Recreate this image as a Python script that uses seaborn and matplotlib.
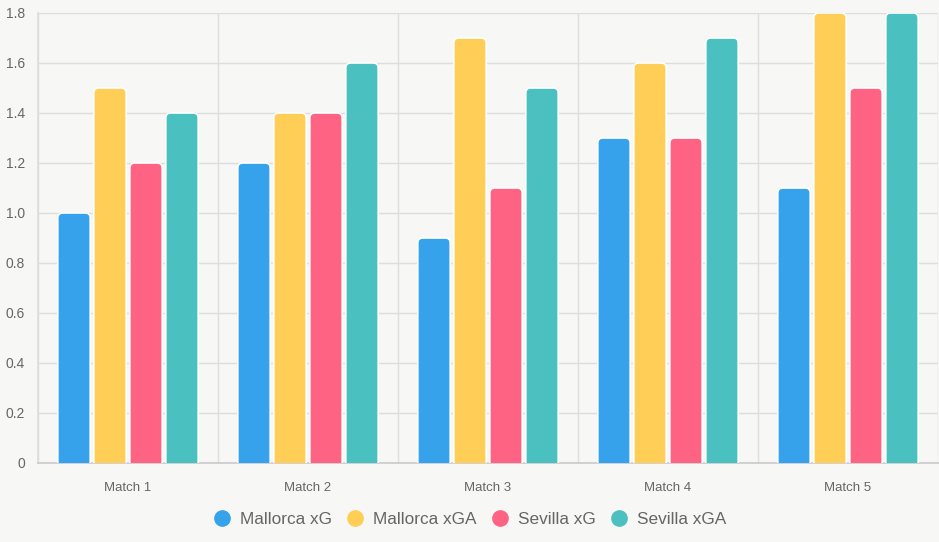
import numpy as np
import pandas as pd
import seaborn as sns
import matplotlib.pyplot as plt
from matplotlib.patches import FancyBboxPatch
from matplotlib.lines import Line2D

matches = ["Match 1", "Match 2", "Match 3", "Match 4", "Match 5"]
series = ["Mallorca xG", "Mallorca xGA", "Sevilla xG", "Sevilla xGA"]
mallorca_xg = [1.0, 1.2, 0.9, 1.3, 1.1]
mallorca_xga = [1.5, 1.4, 1.7, 1.6, 1.8]
sevilla_xg = [1.2, 1.4, 1.1, 1.3, 1.5]
sevilla_xga = [1.4, 1.6, 1.5, 1.7, 1.8]
colors = ["#36A2EB", "#FFCE56", "#FF6384", "#4BC0C0"]

df = pd.DataFrame({
    "match": matches * 4,
    "series": np.repeat(series, len(matches)),
    "value": mallorca_xg + mallorca_xga + sevilla_xg + sevilla_xga,
})

bg = "#f7f7f5"
txt = "#666666"
grid = "#dddddd"

sns.set_theme(style="white")
plt.rcParams['font.family'] = ['Liberation Sans', 'DejaVu Sans']

fig = plt.figure(figsize=(9.39, 5.42), dpi=100, facecolor=bg)
ax = fig.add_axes([38 / 939, 79 / 542, 900 / 939, 450 / 542])
ax.set_facecolor(bg)

sns.barplot(data=df, x="match", y="value", hue="series", palette=colors,
            saturation=1, width=0.8, gap=0.1, ax=ax, legend=False, errorbar=None)

# swap plain bars for rounded-top bars
xpx_per_unit = 900 / 5.0
ypx_per_unit = 450 / 1.8
aspect = xpx_per_unit / ypx_per_unit
for p in list(ax.patches):
    x, w, h = p.get_x(), p.get_width(), p.get_height()
    if h <= 0:
        continue
    fc = p.get_facecolor()
    p.remove()
    r = 5 / xpx_per_unit
    ext = 10 / ypx_per_unit
    fb = FancyBboxPatch((x, -ext), w, h + ext,
                        boxstyle=f"round,pad=0,rounding_size={r}",
                        mutation_aspect=aspect, facecolor=fc,
                        edgecolor="white", linewidth=1.2, zorder=3)
    ax.add_patch(fb)

ax.set_xlim(-0.5, 4.5)
ax.set_ylim(0, 1.8)
yt = np.round(np.arange(0, 1.81, 0.2), 1)
ax.set_yticks(yt)
ax.set_yticklabels(["0" if v == 0 else f"{v:.1f}" for v in yt])
ax.set_xticks(range(len(matches)))
ax.set_xticklabels(matches)
ax.set_xticks(np.arange(-0.5, 5.0, 1.0), minor=True)

ax.grid(axis="y", color=grid, linewidth=1, zorder=0)
ax.grid(axis="x", which="minor", color=grid, linewidth=1, zorder=0)
ax.set_axisbelow(True)
ax.tick_params(axis="x", which="major", length=0, pad=14, labelsize=9.5, labelcolor=txt)
ax.tick_params(axis="x", which="minor", length=6.5, color=grid, width=1)
ax.tick_params(axis="y", length=6.5, color=grid, width=1, pad=3, labelsize=10, labelcolor=txt)
ax.set_xlabel("")
ax.set_ylabel("")

for s in ["top", "right"]:
    ax.spines[s].set_visible(False)
ax.spines["left"].set_color(grid)
ax.spines["bottom"].set_color("#cccccc")

handles = [Line2D([], [], marker="o", linestyle="", markersize=11,
                  markerfacecolor=c, markeredgecolor=c) for c in colors]
leg = fig.legend(handles, series, loc="center", bbox_to_anchor=(0.5, 1 - 519 / 542),
                 ncol=4, frameon=False, fontsize=12.4, handlelength=1.0,
                 handletextpad=0.55, columnspacing=0.85, labelcolor=txt)

fig.savefig("out.png", dpi=100, facecolor=bg)
